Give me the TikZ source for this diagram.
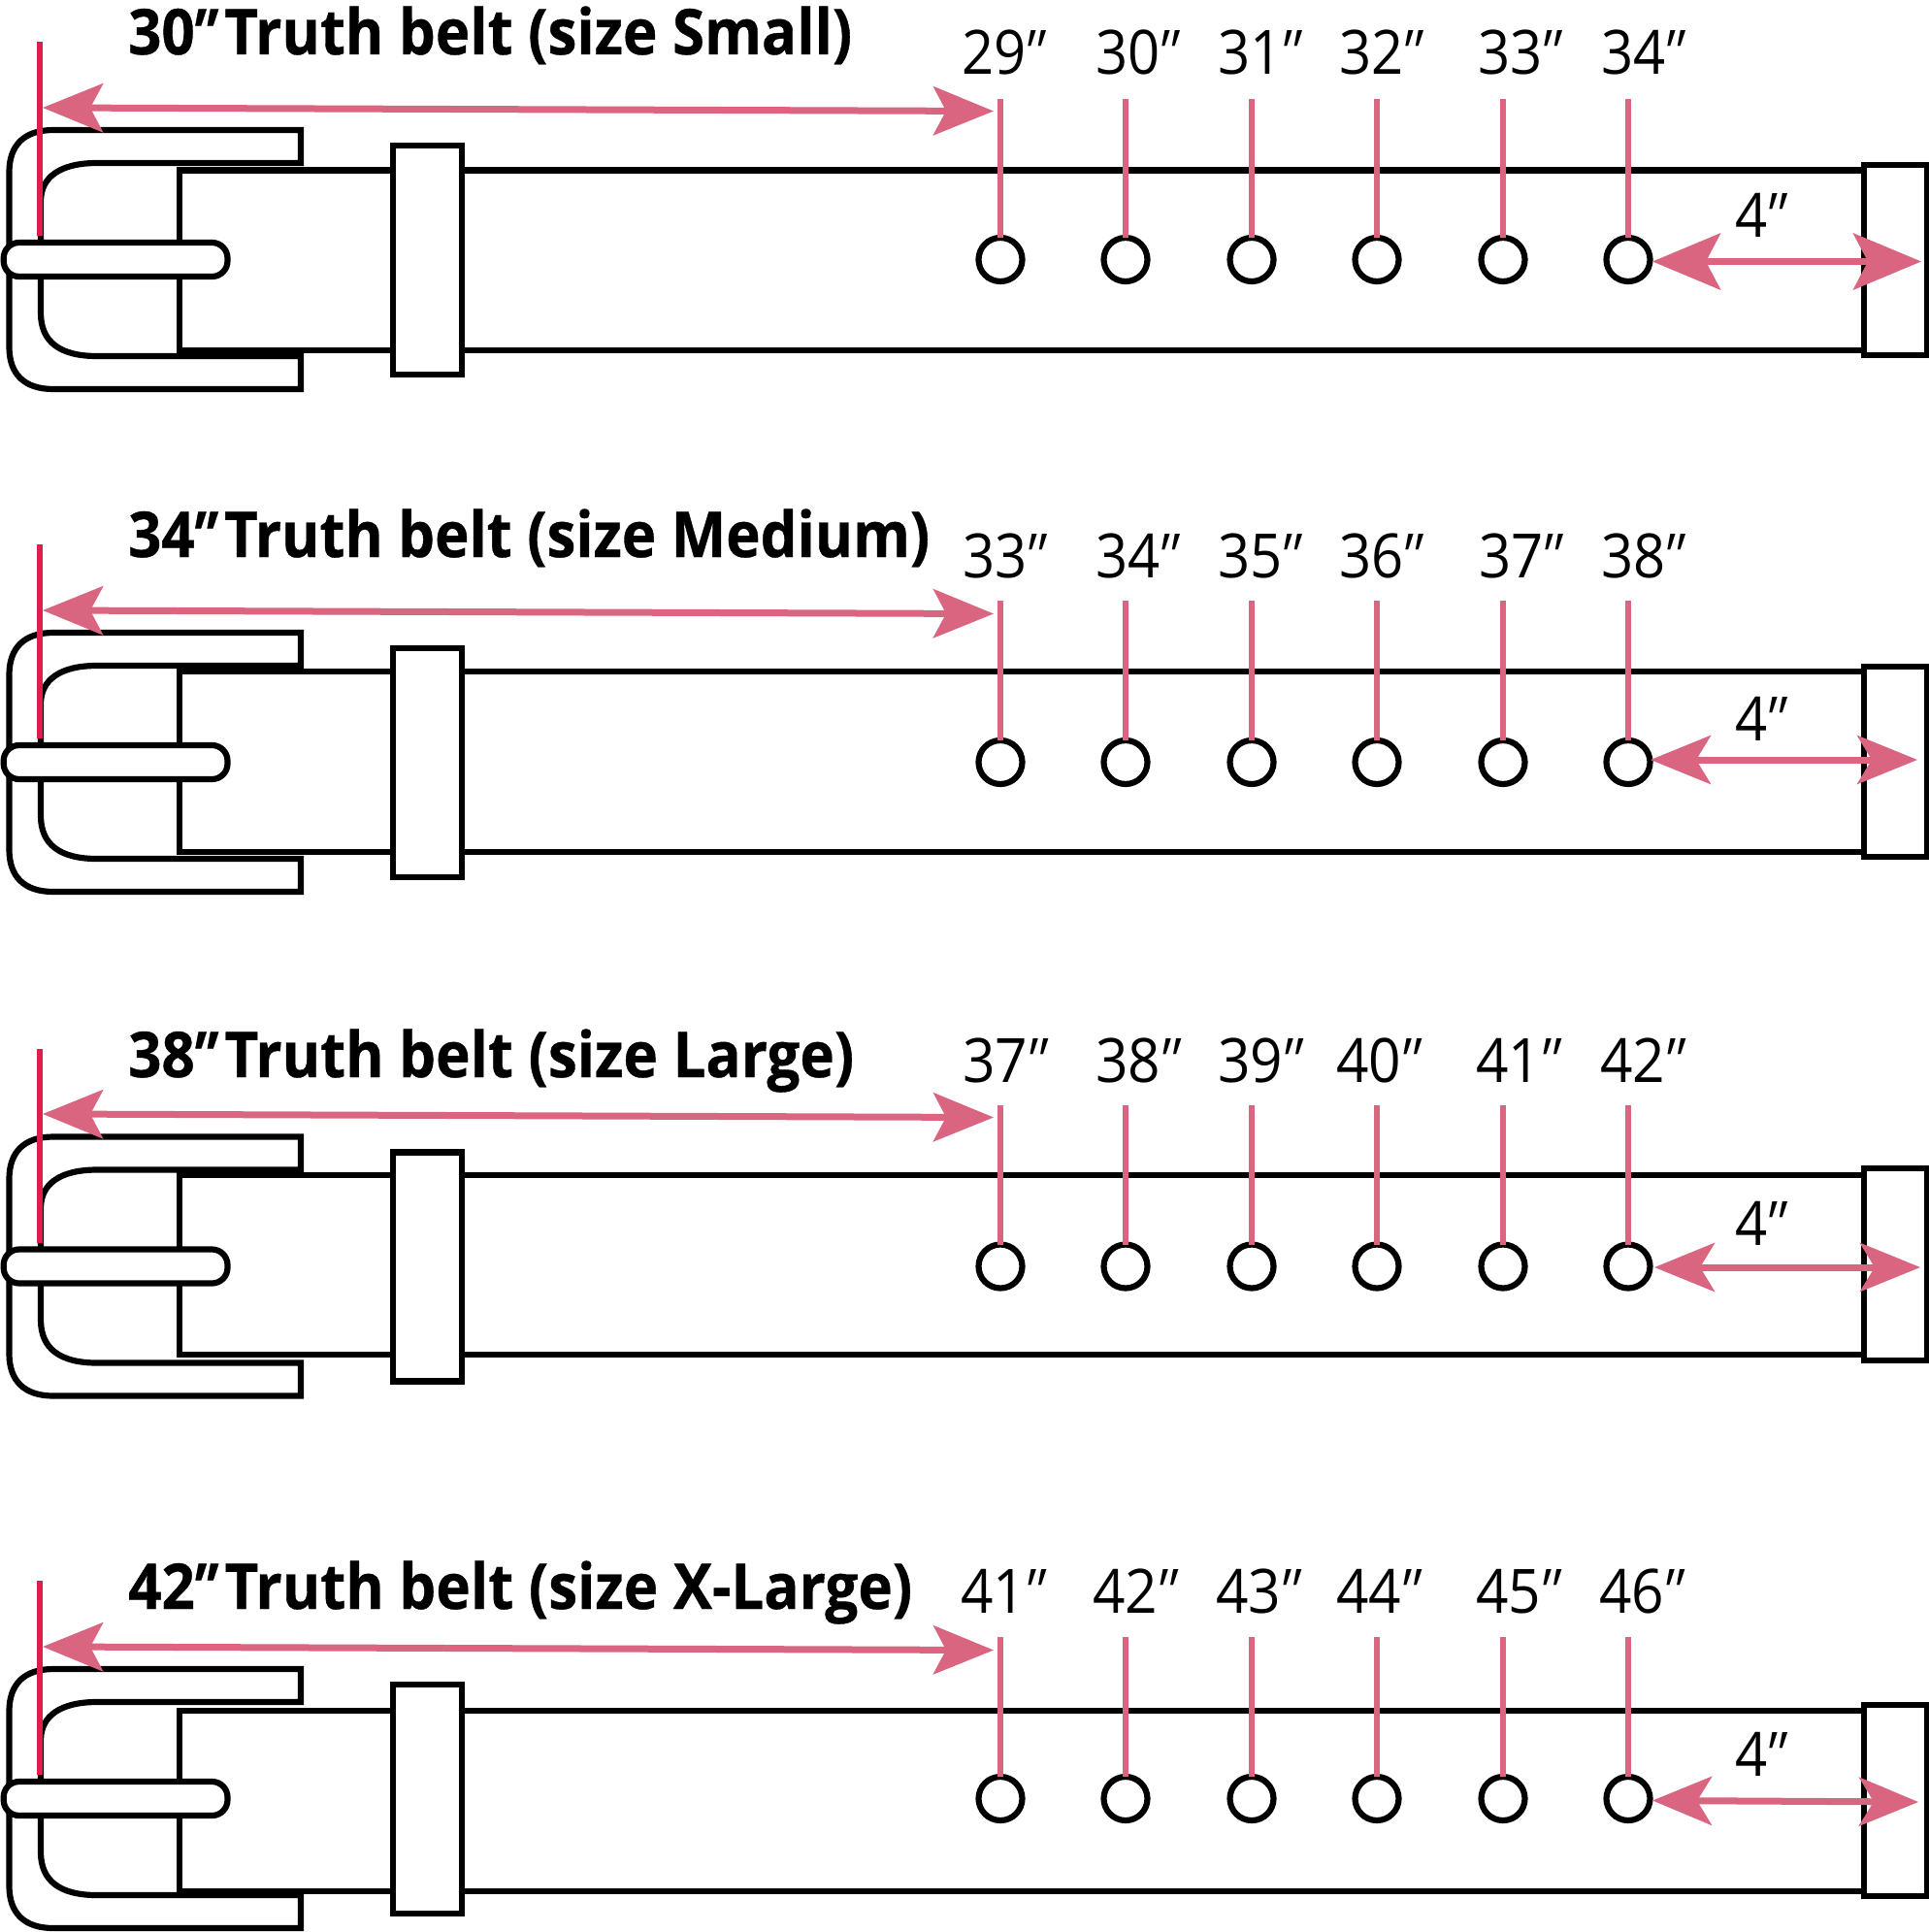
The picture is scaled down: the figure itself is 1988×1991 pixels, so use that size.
\documentclass[tikz,border=0pt]{standalone}
\usepackage{fontspec}
\usepackage{graphicx}
\setmainfont{Open Sans}
\newfontfamily\quoteR[FakeSlant=0.28]{Open Sans}
\newfontfamily\quoteB[FakeSlant=0.28,FakeBold=0.6]{Open Sans}
\newfontfamily\titleface[FakeBold=0.6]{Open Sans}
\usetikzlibrary{arrows.meta}
\definecolor{pinkline}{RGB}{217,101,128}
\definecolor{redline}{RGB}{220,30,80}
\newcommand{\fitw}[2]{\resizebox{#1pt}{\height}{#2}}
\newcommand{\dq}{{\kern-.17em\quoteR ″\kern.17em}}
\newcommand{\dqb}{{\kern-.2em\quoteB ″\kern.24em}}
\tikzset{
  x=1pt,y=-1pt,
  ink/.style={draw=black,line width=6.2pt,line join=miter},
  panel/.style={ink,fill=white},
  hole/.style={circle,draw=black,line width=6.2pt,fill=white,minimum size=45pt,inner sep=0pt,outer sep=0pt},
  tick/.style={draw=pinkline,line width=6.2pt},
  datum/.style={draw=redline,line width=6pt},
  span/.style={draw=pinkline,line width=7pt},
  title/.style={anchor=base west,inner sep=0pt,font=\fontsize{65}{72}\selectfont\titleface\bfseries},
  size/.style={anchor=base west,inner sep=0pt,font=\fontsize{63}{70}\selectfont},
}
\begin{document}
\begin{tikzpicture}
\useasboundingbox[fill=white] (0,0) rectangle (1988,1991);
% k / centre / belt top / belt bottom / end top / end bottom / red top / tick top / long-arrow y / short y left / short y right / short left tip / short right tip / tip len / tip wid
\foreach \k/\c/\bt/\bb/\et/\eb/\rt/\tt/\ay/\sl/\sr/\lx/\rx/\tl/\tw in {
  1/267.5/175.5/361/170/366/43/102/111/269.5/269.5/1703/1980/70/58,
  2/785.5/692/878/687/883/561/619/629/783/783/1701/1976/62/50,
  3/1305/1211/1396/1204/1402/1081/1139/1148/1306/1306/1705/1979/62/50,
  4/1853.5/1763/1949/1757/1954/1629/1687/1697/1855.5/1857/1703/1977/61/50}{
  % belt strap
  \draw[ink] (1920,\bt) -- (185,\bt) -- (185,\bb) -- (1920,\bb);
  % buckle
  \begin{scope}[shift={(0,\c)}]
    \draw[ink] (310,-99.5) -- (100,-99.5)
      .. controls (62,-99.5) and (42,-85) .. (42,-60)
      -- (42,55)
      .. controls (42,85) and (62,99.5) .. (100,99.5)
      -- (310,99.5) -- (310,133.5) -- (55,133.5)
      .. controls (25,133.5) and (9.5,118) .. (9.5,90)
      -- (9.5,-90)
      .. controls (9.5,-118) and (25,-133.5) .. (55,-133.5)
      -- (310,-133.5) -- cycle;
    \draw[panel,rounded corners=16pt] (3.7,-17.5) rectangle (234.5,17.5);
    \draw[panel] (405,-117.5) rectangle (476,118.5);
  \end{scope}
  % end loop
  \draw[panel] (1920.7,\et) rectangle (1985.6,\eb);
  % holes and their ticks
  \foreach \i/\hx in {1/1031,2/1160,3/1290,4/1419,5/1549,6/1678}{
    \node[hole] (hole\k-\i) at (\hx,\c) {};
    \coordinate (tick\k-\i) at (\hx,\tt);
    \draw[tick] (tick\k-\i) -- (hole\k-\i.north);
  }
  % long span
  \coordinate (longL\k) at (44,\ay);
  \coordinate (longR\k) at (1024,\ay+3.5);
  \draw[span,{Stealth[length=62pt,width=50pt,inset=13pt]}-{Stealth[length=62pt,width=50pt,inset=13pt]}] (longL\k) -- (longR\k);
  % short span
  \coordinate (shortL\k) at (\lx,\sl);
  \coordinate (shortR\k) at (\rx,\sr);
  \draw[span,{Stealth[length=\tl pt,width=\tw pt,inset=15pt]}-{Stealth[length=\tl pt,width=\tw pt,inset=15pt]}] (shortL\k) -- (shortR\k);
  % datum
  \coordinate (datumT\k) at (41,\rt);
  \coordinate (datumB\k) at (41,\rt+200);
  \draw[datum] (datumT\k) -- (datumB\k);
}
% titles
\node[title] (title1) at (132,56) {\fitw{746}{30\dqb Truth belt (size Small)}};
\node[title] (title2) at (132,574) {\fitw{826}{34\dqb Truth belt (size Medium)}};
\node[title] (title3) at (132,1110) {\fitw{748}{38\dqb Truth belt (size Large)}};
\node[title] (title4) at (132,1658) {\fitw{808}{42\dqb Truth belt (size X-Large)}};
% size labels
\foreach \i/\tx/\lx in {1/29/991,2/30/1129,3/31/1255,4/32/1380,5/33/1523,6/34/1650}
  \node[size] (num1-\i) at (\lx,77) {\fitw{89}{\tx\dq}};
\foreach \i/\tx/\lx in {1/33/992,2/34/1129,3/35/1255,4/36/1380,5/37/1524,6/38/1650}
  \node[size] (num2-\i) at (\lx,595) {\fitw{89}{\tx\dq}};
\foreach \i/\tx/\lx in {1/37/992,2/38/1129,3/39/1255,4/40/1377,5/41/1521,6/42/1649}
  \node[size] (num3-\i) at (\lx,1115) {\fitw{90}{\tx\dq}};
\foreach \i/\tx/\lx in {1/41/990,2/42/1126,3/43/1253,4/44/1377,5/45/1521,6/46/1648}
  \node[size] (num4-\i) at (\lx,1662) {\fitw{90}{\tx\dq}};
% 4 inch labels
\foreach \k/\by in {1/244,2/763,3/1283,4/1830}
  \node[size] (four\k) at (1788,\by) {\fitw{56}{4\dq}};
\end{tikzpicture}
\end{document}
